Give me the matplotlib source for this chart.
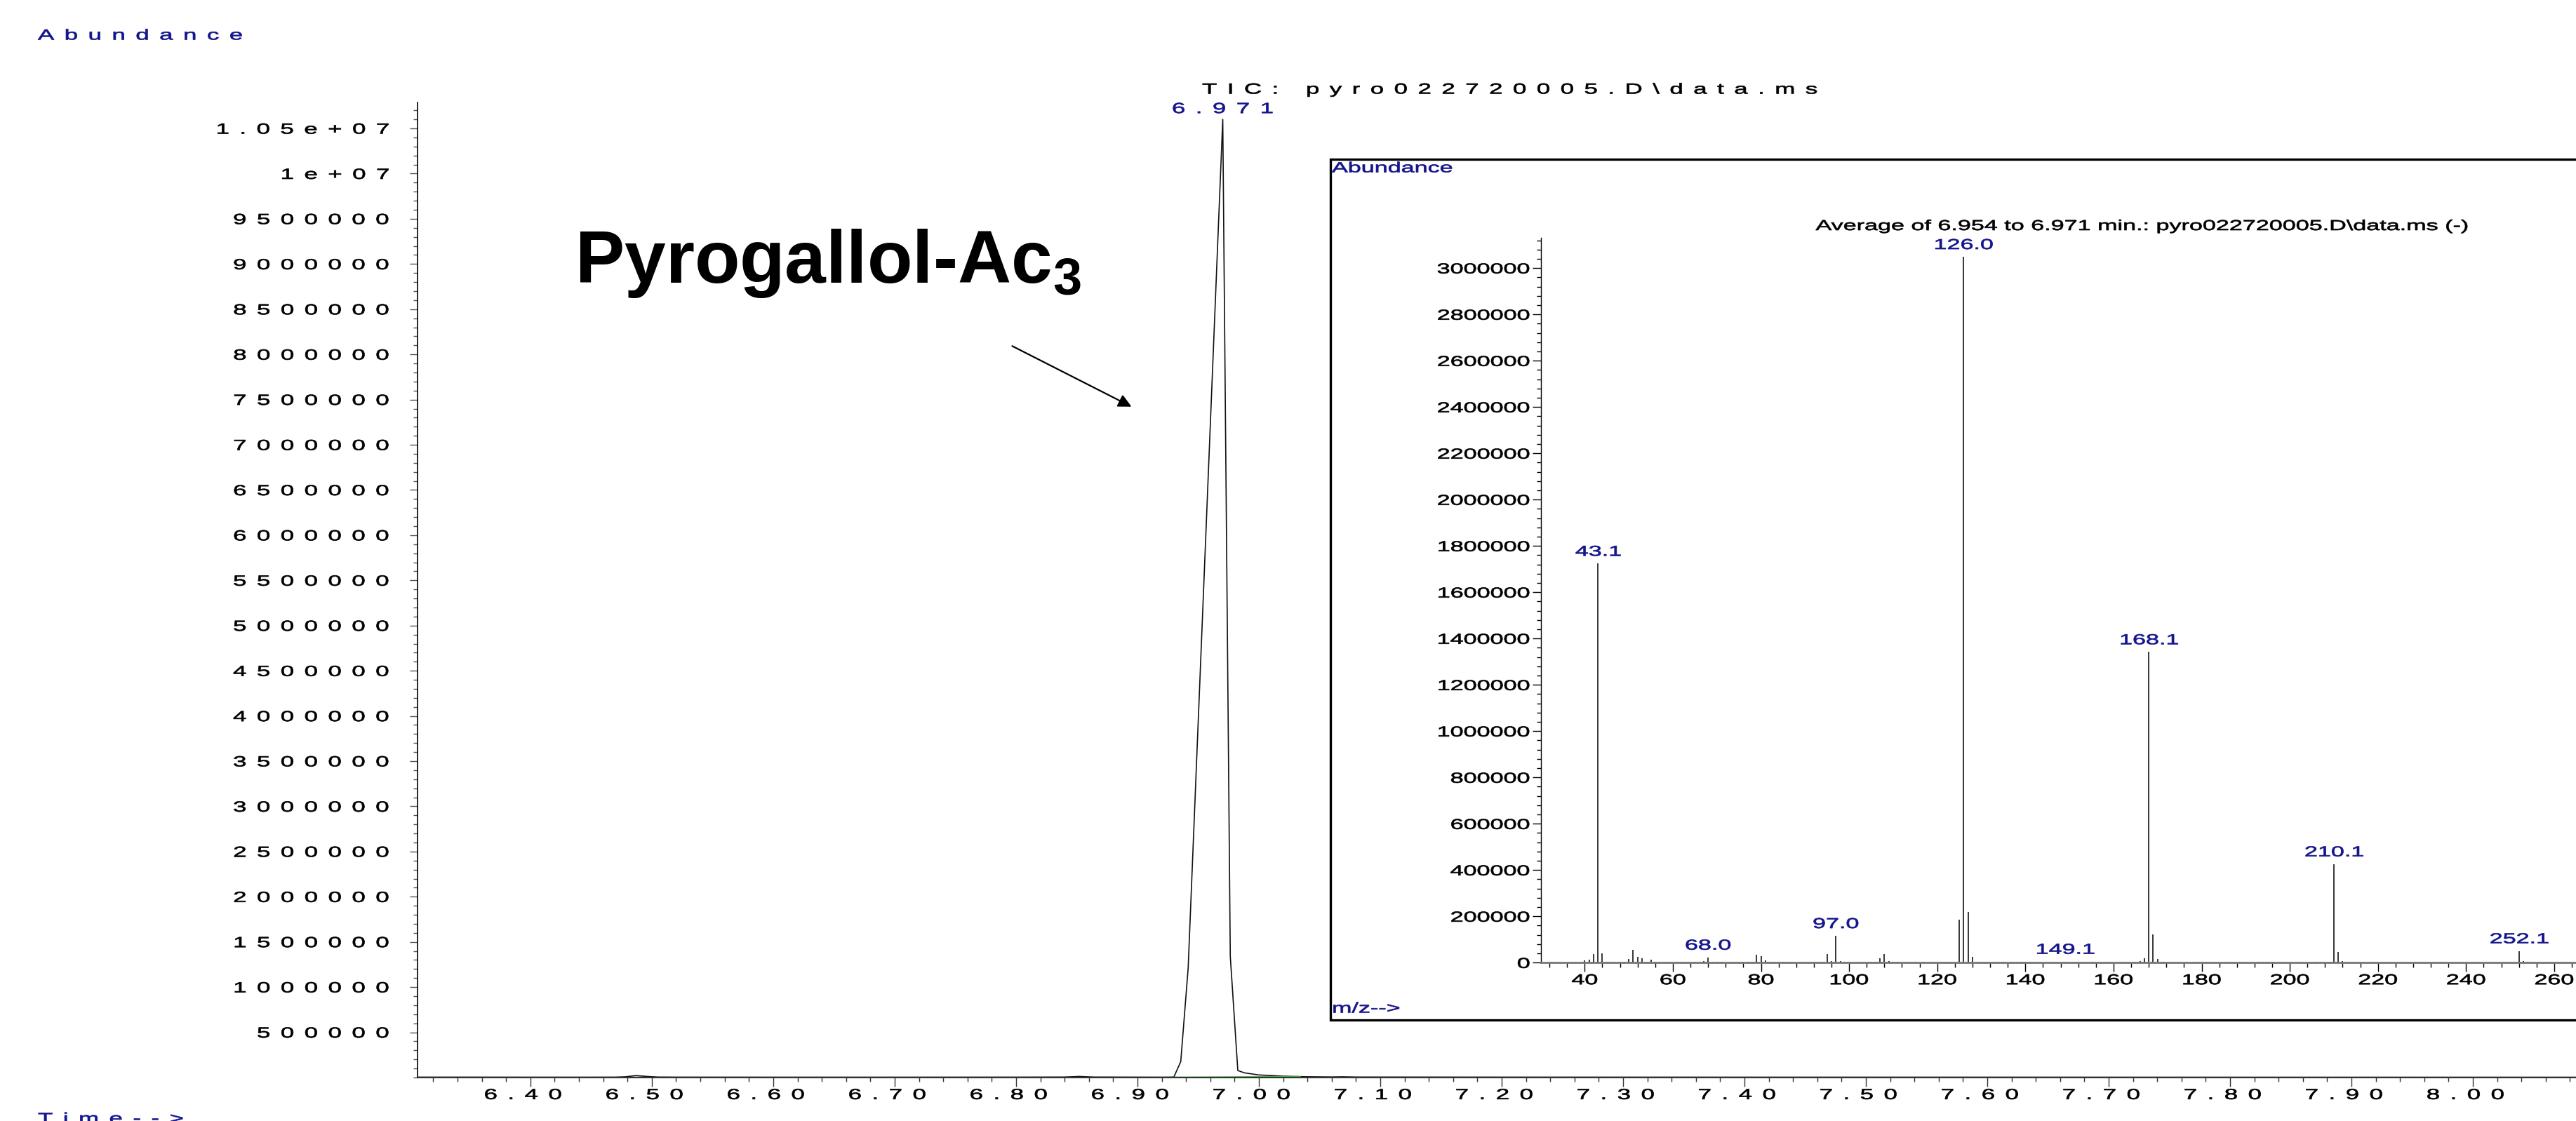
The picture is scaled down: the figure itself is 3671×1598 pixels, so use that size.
'''
GC-MS plot: TIC of pyro022720005 with the averaged
mass spectrum of the big peak shown in a box
'''

import numpy as np
import matplotlib
matplotlib.use('Agg')
import matplotlib.pyplot as plt
from matplotlib.patches import Rectangle
from matplotlib.ticker import MultipleLocator
from matplotlib.patheffects import AbstractPathEffect
from matplotlib.transforms import Affine2D

plt.rcParams['font.family'] = ['Liberation Sans', 'DejaVu Sans']
plt.rcParams['mathtext.fontset'] = 'custom'
plt.rcParams['mathtext.rm'] = 'Liberation Sans'
plt.rcParams['mathtext.bf'] = 'Liberation Sans:bold'

###########################################
# the data

# total ion chromatogram
ticTime = [6.307, 6.35, 6.40, 6.45, 6.47, 6.478, 6.487, 6.496, 6.505, 6.52, 6.60, 6.70,
           6.80, 6.84, 6.852, 6.864, 6.90, 6.925, 6.930, 6.9357, 6.9418, 6.9703, 6.9765,
           6.9827, 6.988, 6.9996, 7.019, 7.037, 7.06, 7.069, 7.08, 7.2, 7.4, 7.6, 7.8, 8.0, 8.085]
ticAbund = [4000, 4000, 3500, 3500, 4000, 8000, 21000, 12000, 5000, 4000, 3500, 3500,
            4000, 5000, 12000, 5000, 4000, 3500, 5000, 176000, 1210000, 10600000, 1340000,
            77600, 52000, 29000, 15000, 9000, 6000, 8000, 5000, 4000, 3500, 3500, 3000, 3000, 3000]

# integration baseline under the peak
baseTime = [6.9225, 7.034]
baseAbund = [1000, 9000]

peakTime = 6.9703
peakAbund = 10600000
peakLabel = '6.971'

xTicks = [6.40, 6.50, 6.60, 6.70, 6.80, 6.90, 7.00, 7.10, 7.20, 7.30, 7.40, 7.50,
          7.60, 7.70, 7.80, 7.90, 8.00]
xTickLabels = ['6.40', '6.50', '6.60', '6.70', '6.80', '6.90', '7.00', '7.10', '7.20',
               '7.30', '7.40', '7.50', '7.60', '7.70', '7.80', '7.90', '8.00']
yTicks = [500000, 1000000, 1500000, 2000000, 2500000, 3000000, 3500000, 4000000,
          4500000, 5000000, 5500000, 6000000, 6500000, 7000000, 7500000, 8000000,
          8500000, 9000000, 9500000, 10000000, 10500000]
yTickLabels = ['500000', '1000000', '1500000', '2000000', '2500000', '3000000', '3500000',
               '4000000', '4500000', '5000000', '5500000', '6000000', '6500000', '7000000',
               '7500000', '8000000', '8500000', '9000000', '9500000', '1e+07', '1.05e+07']

# averaged mass spectrum
mz = [40, 41, 42, 43, 44, 45, 47, 48, 49, 50, 51, 52, 53, 54, 55, 56, 57, 59, 61, 62, 63,
      64, 65, 66, 67, 68, 69, 70, 71, 73, 74, 75, 76, 77, 78, 79, 80, 81, 82, 83, 84, 85,
      86, 87, 89, 91, 92, 93, 94, 95, 96, 97, 98, 99, 105, 106, 107, 108, 109, 110, 111,
      113, 115, 117, 119, 121, 122, 123, 124, 125, 126, 127, 128, 129, 131, 133, 135, 137,
      138, 139, 140, 141, 149, 151, 152, 153, 155, 165, 166, 167, 168, 169, 170, 171, 179,
      181, 193, 194, 195, 196, 206, 208, 209, 210, 211, 212, 252, 253, 254, 256]
intensity = [10000, 12000, 37000, 1724000, 39000, 5000, 3000, 5000, 4000, 17000, 56000,
             25000, 20000, 4000, 12000, 3000, 3000, 3000, 3000, 4000, 5000, 3000, 4000, 5000,
             6000, 23000, 5000, 3000, 3000, 3000, 3000, 3000, 3000, 4000, 3000, 33000, 27000,
             10000, 4000, 3000, 3000, 3000, 3000, 3000, 3000, 3000, 3000, 4000, 5000, 38000,
             8000, 116000, 8000, 3000, 3000, 5000, 20000, 37000, 8000, 4000, 3000, 3000, 3000,
             3000, 3000, 3000, 3000, 3000, 5000, 187000, 3049000, 218000, 26000, 4000, 3000,
             3000, 3000, 4000, 3000, 4000, 5000, 3000, 5000, 3000, 3000, 4000, 3000, 4000,
             8000, 20000, 1342000, 123000, 17000, 3000, 3000, 3000, 3000, 4000, 4000, 3000,
             3000, 3000, 5000, 426000, 47500, 8000, 50600, 7000, 3000, 2000]
labelMz = [43.1, 68.0, 97.0, 126.0, 149.1, 168.1, 210.1, 252.1]
labelInt = [1724000, 23000, 116000, 3049000, 5000, 1342000, 426000, 50600]
labelText = ['43.1', '68.0', '97.0', '126.0', '149.1', '168.1', '210.1', '252.1']
msXTicks = [40, 60, 80, 100, 120, 140, 160, 180, 200, 220, 240, 260]
msXTickLabels = ['40', '60', '80', '100', '120', '140', '160', '180', '200', '220', '240', '260']
msYTicks = [0, 200000, 400000, 600000, 800000, 1000000, 1200000, 1400000, 1600000,
            1800000, 2000000, 2200000, 2400000, 2600000, 2800000, 3000000]
msYTickLabels = ['0', '200000', '400000', '600000', '800000', '1000000', '1200000',
                 '1400000', '1600000', '1800000', '2000000', '2200000', '2400000',
                 '2600000', '2800000', '3000000']

###########################################
# layout helpers, all in pixels of the final picture

W, H = 3671, 1598
BLUE = '#14148c'
FS = 15.1       # main texts
FSI = 14.8      # texts in the spectrum box
SX = 1.66       # the printout is stretched sideways
GAP = '\u2005\u2006'

def fx(x):
  return x/W

def fy(y):
  return 1.0-y/H

def spaced(s, gap=GAP):
  '''letter spaced text, like the ChemStation printout'''
  return gap.join(s)


class Stretch(AbstractPathEffect):
  '''widen (and slightly thicken) the glyphs about the left, centre or right of the text'''
  def __init__(self, sx=SX, anchor='left', lw=0.5):
    super().__init__()
    self.sx = sx
    self.anchor = anchor
    self.lw = lw

  def draw_path(self, renderer, gc, tpath, affine, rgbFace=None):
    ext = tpath.get_extents()
    if self.anchor == 'right':
      x0 = ext.x1
    elif self.anchor == 'center':
      x0 = 0.5*(ext.x0+ext.x1)
    else:
      x0 = 0.0
    t = Affine2D().translate(-x0, 0).scale(self.sx, 1.0).translate(x0, 0) + affine
    gc0 = renderer.new_gc()
    gc0.copy_properties(gc)
    if rgbFace is not None:
      gc0.set_foreground(rgbFace)
    gc0.set_linewidth(self.lw)
    renderer.draw_path(gc0, tpath, t, rgbFace)
    gc0.restore()


def wide(txt, anchor='left'):
  txt.set_path_effects([Stretch(SX, anchor)])
  return txt

###########################################

fig = plt.figure(figsize=(W/100, H/100), dpi=100)

# main chromatogram
ax = fig.add_axes([fx(595), fy(1536), 1.0-fx(595), (1536-145.7)/H])
ax.plot(ticTime, ticAbund, color='#111111', lw=1.2)
ax.plot(baseTime, baseAbund, color='#3cbf3c', lw=1.5)
ax.set_xlim(6.307, 8.085)
ax.set_ylim(0, 10.79e6)
for s in ['top', 'right']:
  ax.spines[s].set_visible(False)
ax.spines['left'].set_linewidth(1.2)
ax.spines['bottom'].set_linewidth(1.6)
ax.spines['bottom'].set_color('#333333')

ax.set_xticks(xTicks)
ax.set_xticklabels([spaced(s)+'\u2003' for s in xTickLabels])
ax.xaxis.set_minor_locator(MultipleLocator(0.02))
ax.set_yticks(yTicks)
ax.set_yticklabels([spaced(s) for s in yTickLabels])
ax.yaxis.set_minor_locator(MultipleLocator(100000))
ax.tick_params(axis='x', which='major', length=9.4, width=1, pad=2, labelsize=FS, color='#333333')
ax.tick_params(axis='x', which='minor', length=4.3, width=1, color='#333333')
ax.tick_params(axis='y', which='major', length=8, width=1, pad=21, labelsize=FS, color='#555555')
ax.tick_params(axis='y', which='minor', length=4.3, width=1, color='#555555')
for t in ax.get_xticklabels():
  wide(t, 'center')
for t in ax.get_yticklabels():
  wide(t, 'right')

wide(ax.annotate(spaced(peakLabel), xy=(peakTime, peakAbund), xytext=(0, 5),
                 textcoords='offset pixels', ha='center', va='bottom', fontsize=FS, color=BLUE),
     'center')

wide(fig.text(fx(1713), fy(128), spaced('TIC: pyro022720005.D\\data.ms'), ha='left',
              va='center', fontsize=FS, color='black'))
wide(fig.text(fx(54), fy(51), spaced('Abundance'), ha='left', va='center', fontsize=FS, color=BLUE))
wide(fig.text(fx(54), fy(1586), spaced('Time-->'), ha='left', va='top', fontsize=FS, color=BLUE))

# compound name and arrow
fig.text(fx(819), fy(403), r'Pyrogallol-Ac$_\mathbf{3}$', ha='left', va='baseline',
         fontsize=76, fontweight='bold', color='black', zorder=3)
ax.annotate('', xy=(fx(1615), fy(581)), xycoords='figure fraction',
            xytext=(fx(1440), fy(492)), textcoords='figure fraction',
            arrowprops=dict(arrowstyle='-|>', color='black', lw=1.6, mutation_scale=28))

# box round the spectrum
box = Rectangle((fx(1895.5), fy(1454)), 1.0, (1454-227)/H, transform=fig.transFigure,
                facecolor='white', edgecolor='black', lw=2.4, zorder=1)
fig.add_artist(box)
wide(fig.text(fx(1898), fy(240), 'Abundance', ha='left', va='center',
              fontsize=FSI, color=BLUE, zorder=3))
wide(fig.text(fx(1898), fy(1438), 'm/z-->', ha='left', va='center',
              fontsize=FSI, color=BLUE, zorder=3))
wide(fig.text(fx(2587.5), fy(322.5), 'Average of 6.954 to 6.971 min.: pyro022720005.D\\data.ms (-)',
              ha='left', va='center', fontsize=FSI, color='black', zorder=3))

# mass spectrum
axi = fig.add_axes([fx(2196.4), fy(1372.3), 1.0-fx(2196.4), (1372.3-339.3)/H])
axi.set_zorder(2)
axi.patch.set_visible(False)
axi.vlines(mz, 0, intensity, color='black', lw=1.1)
axi.set_xlim(30.14, 264.95)
axi.set_ylim(0, 3.13e6)
for s in ['top', 'right']:
  axi.spines[s].set_visible(False)
axi.spines['left'].set_linewidth(1)
axi.spines['bottom'].set_linewidth(2)
axi.spines['bottom'].set_color('#777777')

for m, v, t in zip(labelMz, labelInt, labelText):
  wide(axi.annotate(t, xy=(m, v), xytext=(0, 7), textcoords='offset pixels',
                    ha='center', va='bottom', fontsize=FSI, color=BLUE), 'center')

axi.set_xticks(msXTicks)
axi.set_xticklabels(msXTickLabels)
axi.xaxis.set_minor_locator(MultipleLocator(4))
axi.set_yticks(msYTicks)
axi.set_yticklabels(msYTickLabels)
axi.yaxis.set_minor_locator(MultipleLocator(40000))
axi.tick_params(axis='x', which='major', length=9.4, width=1, pad=2, labelsize=FSI)
axi.tick_params(axis='x', which='minor', length=4.8, width=1)
axi.tick_params(axis='y', which='major', length=8.6, width=1, pad=3, labelsize=FSI)
axi.tick_params(axis='y', which='minor', length=4.3, width=1)
for t in axi.get_xticklabels():
  wide(t, 'center')
for t in axi.get_yticklabels():
  wide(t, 'right')

fig.savefig('out.png', dpi=100)
print("Written to out.png")
